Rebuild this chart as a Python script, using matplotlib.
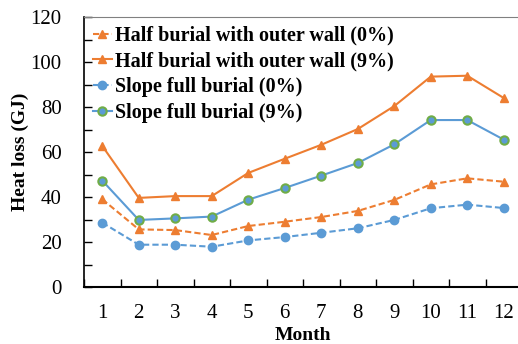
import numpy as np
import matplotlib.pyplot as plt

plt.rcParams['font.family'] = ['Liberation Serif', 'DejaVu Serif']

months = np.arange(1, 13)
half_0 = [39.0, 25.6, 25.3, 23.1, 27.1, 29.0, 31.1, 33.8, 38.7, 45.6, 48.3, 46.8]
half_9 = [62.7, 39.6, 40.4, 40.4, 50.7, 57.0, 63.2, 70.2, 80.4, 93.5, 93.9, 84.0]
slope_0 = [28.6, 18.8, 18.8, 17.9, 20.7, 22.2, 24.1, 26.1, 29.8, 35.0, 36.6, 35.1]
slope_9 = [47.3, 29.8, 30.5, 31.3, 38.8, 44.0, 49.5, 55.1, 63.4, 74.2, 74.2, 65.5]

orange = '#ED7D31'
blue = '#5B9BD5'
green = '#70AD47'

fig = plt.figure(figsize=(5.18, 3.44), dpi=100)
ax = fig.add_axes([84 / 518, 1 - 287 / 344, 438 / 518, 270 / 344])

dash = (3, 1.5)
ax.plot(months, half_0, '--', color=orange, marker='^', ms=6, lw=1.5,
        dashes=dash, label='Half burial with outer wall (0%)')
ax.plot(months, half_9, '-', color=orange, marker='^', ms=6, lw=1.5,
        label='Half burial with outer wall (9%)')
ax.plot(months, slope_0, '--', color=blue, marker='o', ms=6, lw=1.5,
        dashes=dash, label='Slope full burial (0%)')
ax.plot(months, slope_9, '-', color=blue, marker='o', ms=6, lw=1.5,
        mfc=blue, mec=green, mew=1.5,
        label='Slope full burial (9%)')

ax.set_xlim(0.5, 12.5)
ax.set_ylim(0, 120)
ax.set_xticks(months)
ax.set_xticks(np.arange(0.5, 13, 1), minor=True)
ax.set_yticks(np.arange(0, 121, 20))
ax.set_yticks(np.arange(0, 121, 10), minor=True)
ax.tick_params(axis='x', which='major', length=0, labelsize=15, pad=12)
ax.tick_params(axis='x', which='minor', direction='in', length=6, width=1)
ax.tick_params(axis='y', which='both', direction='in', length=6, width=1,
               labelsize=15, pad=16)

ax.spines['top'].set_color('#808080')
ax.spines['right'].set_visible(False)
ax.spines['left'].set_linewidth(1.2)
ax.spines['bottom'].set_linewidth(1.5)

ax.set_xlabel('Month', fontsize=14, fontweight='bold', labelpad=3)
ax.set_ylabel('Heat loss (GJ)', fontsize=14, fontweight='bold')
ax.yaxis.set_label_coords(-0.125, 0.5)

ax.legend(loc='upper left', frameon=False, prop={'weight': 'bold', 'size': 14.5},
          handlelength=0.95, handletextpad=0.15, labelspacing=0.28,
          borderaxespad=0.0, borderpad=0.3, bbox_to_anchor=(0.006, 0.99))

fig.savefig('out.png', dpi=100)
